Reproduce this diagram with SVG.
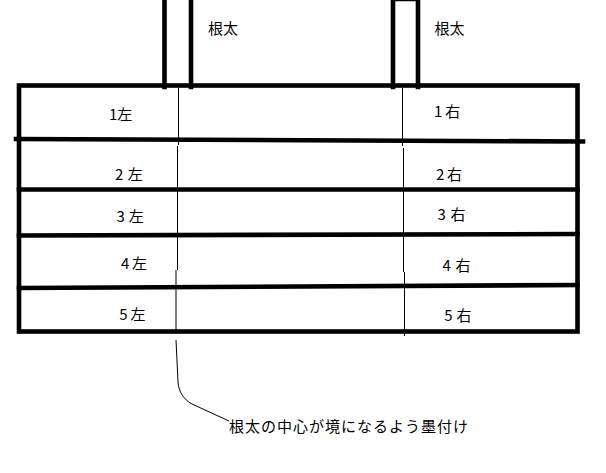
<svg xmlns="http://www.w3.org/2000/svg" width="606" height="473" viewBox="0 0 606 473">
<style>
.thick{fill:none;stroke:#000;stroke-width:4.6;stroke-linecap:square}
.thin{fill:none;stroke:#000;stroke-width:1}
.lbl{font-family:"Noto Sans CJK JP","Noto Sans",sans-serif;font-size:15px;fill:#000}
.note{font-family:"Noto Sans CJK JP","Noto Sans",sans-serif;font-size:15px;fill:#000}
</style>
<rect width="606" height="473" fill="#fff"/>
<g id="post-left">
<path class="thick" d="M164.5 0 V87 M191 0 V87"/>
<text class="lbl" x="208" y="33.5">根太</text>
</g>
<g id="post-right">
<path class="thick" d="M393 87 V-1 H418 V87"/>
<text class="lbl" x="434.5" y="33.5">根太</text>
</g>
<g id="board">
<rect class="thick" x="19" y="85.5" width="558.5" height="246"/>
<path class="thick" d="M16 139 L583 141.5 M19 189.5 H577.5 M19 235.5 L577.5 234 M19 288 L577.5 285"/>
</g>
<g id="centerlines">
<path class="thin" d="M178.5 88 V145 M177.5 146 V270 M176 270 V332"/>
<path class="thin" d="M402.5 88 V146 M403.5 148 V272 M404.5 272 V336"/>
</g>
<g id="labels-left">
<text class="lbl" x="109" y="120">1左</text>
<text class="lbl" x="115" y="180">2<tspan dx="4.5">左</tspan></text>
<text class="lbl" x="116.5" y="222">3<tspan dx="4">左</tspan></text>
<text class="lbl" x="121" y="269">4<tspan dx="2.7">左</tspan></text>
<text class="lbl" x="119.3" y="320">5<tspan dx="2.8">左</tspan></text>
</g>
<g id="labels-right">
<text class="lbl" x="434" y="117">1<tspan dx="3">右</tspan></text>
<text class="lbl" x="436" y="180">2<tspan dx="2.7">右</tspan></text>
<text class="lbl" x="437.6" y="220">3<tspan dx="4.5">右</tspan></text>
<text class="lbl" x="442.6" y="271">4<tspan dx="4.5">右</tspan></text>
<text class="lbl" x="444.3" y="321">5<tspan dx="3.8">右</tspan></text>
</g>
<g id="connectors">
<path class="thin" d="M176 340 L178 382 C179 392 183 399 192 404 L229 421"/>
</g>
<g id="note">
<text class="note" x="229" y="431.5" textLength="239" lengthAdjust="spacing">根太の中心が境になるよう墨付け</text>
</g>
</svg>
